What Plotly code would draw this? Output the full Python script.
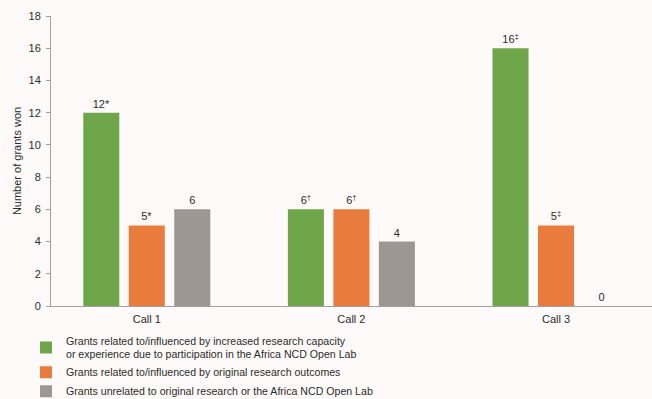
import plotly.graph_objects as go

categories = ["Call 1", "Call 2", "Call 3"]
series_names = [
    "Grants related to/influenced by increased research capacity<br>or experience due to participation in the Africa NCD Open Lab",
    "Grants related to/influenced by original research outcomes",
    "Grants unrelated to original research or the Africa NCD Open Lab",
]
capacity = [12, 6, 16]
outcomes = [5, 6, 5]
unrelated = [6, 4, 0]
capacity_labels = ["12*", "6<sup>†</sup>", "16<sup>‡</sup>"]
outcomes_labels = ["5*", "6<sup>†</sup>", "5<sup>‡</sup>"]
unrelated_labels = ["6", "4", "0"]
colors = ["#70a64a", "#e97b3c", "#9c9793"]
y_ticks = [0, 2, 4, 6, 8, 10, 12, 14, 16, 18]

FONT = "Liberation Sans, Arial, sans-serif"
TXT = "#2b2b2b"
BG = "#fefaf9"

fig = go.Figure()
for name, vals, labs, col in zip(series_names,
                                 [capacity, outcomes, unrelated],
                                 [capacity_labels, outcomes_labels, unrelated_labels],
                                 colors):
    fig.add_trace(go.Bar(
        x=list(range(len(categories))), y=vals, name=name,
        marker=dict(color=col, line=dict(width=0)),
        text=labs, textposition="outside", cliponaxis=False,
        textfont=dict(family=FONT, size=11, color=TXT),
        hoverinfo="skip",
    ))

fig.update_layout(
    width=652, height=399,
    margin=dict(l=51, r=0, t=16, b=93, autoexpand=False),
    paper_bgcolor=BG, plot_bgcolor=BG,
    barmode="group", bargap=0.333, bargroupgap=0.208,
    font=dict(family=FONT, size=11, color=TXT),
    showlegend=True,
    legend=dict(
        orientation="v", x=-0.0416, xanchor="left", y=-0.073, yanchor="top",
        bgcolor="rgba(0,0,0,0)", font=dict(family=FONT, size=10.6, color=TXT),
        traceorder="normal", itemclick=False, itemdoubleclick=False,
    ),
    xaxis=dict(
        range=[-0.468, 2.469], tickmode="array",
        tickvals=list(range(len(categories))), ticktext=categories,
        showgrid=False, zeroline=False, showline=True, linecolor="#a0a0a0",
        linewidth=1, ticks="", ticklabelstandoff=3,
        tickfont=dict(family=FONT, size=11, color=TXT),
    ),
    yaxis=dict(
        range=[0, 18], tickvals=y_ticks, showgrid=False, zeroline=False,
        showline=True, linecolor="#a0a0a0", linewidth=1,
        ticks="outside", ticklen=4, tickcolor="#a0a0a0", ticklabelstandoff=3,
        tickfont=dict(family=FONT, size=11, color=TXT),
        title=dict(text="Number of grants won", standoff=4,
                   font=dict(family=FONT, size=11, color=TXT)),
    ),
)

fig.write_html("out.html")
